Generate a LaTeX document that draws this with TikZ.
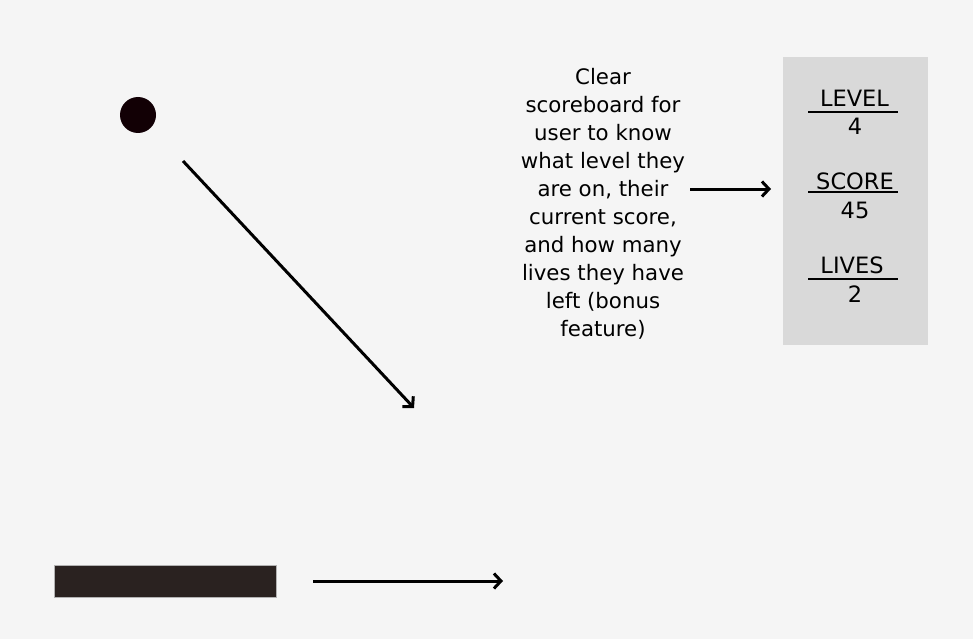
\documentclass[tikz,border=0pt]{standalone}
\usepackage{fontspec}
\setmainfont{DejaVu Sans}
\usetikzlibrary{arrows.meta}
\definecolor{bgcol}{HTML}{F5F5F5}
\definecolor{boardcol}{HTML}{D9D9D9}
\definecolor{ballcol}{HTML}{120005}
\definecolor{paddlecol}{HTML}{2A2220}
\begin{document}
\begin{tikzpicture}[
    x=1pt, y=-1pt,
    arrow/.style={-{Straight Barb[length=7pt,width=15pt]}, line width=3pt},
    notetext/.style={
        align=center,
        font=\fontsize{21.3}{28}\selectfont,
        inner sep=0pt
    },
    boardtext/.style={
        font=\fontsize{22.5}{24}\selectfont,
        inner sep=0pt
    }
]

\fill[bgcol] (0,0) rectangle (973,639);
\useasboundingbox (0,0) rectangle (973,639);

\node[circle, fill=ballcol, minimum size=36pt, inner sep=0pt] (ball) at (138,115) {};
\node[rectangle, fill=paddlecol, draw=gray!60, line width=0.5pt,
      minimum width=222pt, minimum height=32pt, inner sep=0pt] (paddle) at (165,581) {};
\node[rectangle, fill=boardcol, minimum width=145pt, minimum height=288pt,
      inner sep=0pt] (board) at (855.5,201) {};

\node[notetext] (note) at (603,204) {Clear\\
scoreboard for\\
user to know\\
what level they\\
are on, their\\
current score,\\
and how many\\
lives they have\\
left (bonus\\
feature)};

\foreach \lbl/\val/\x/\y/\ly/\vy in {LEVEL/4/854.5/98.5/112/126.5,
                                    SCORE/45/855/181.5/192/210,
                                    LIVES/2/852/265/279/294}{
    \node[boardtext] (\lbl) at (\x,\y) {\lbl};
    \node[boardtext] (\lbl-val) at (855,\vy) {\val};
    \draw[line width=1.6pt] (808,\ly) -- (898,\ly);
}

\coordinate (ballgo) at (183,161);
\coordinate (ballend) at (414,408);
\coordinate (padgo) at (313,581);
\coordinate (padend) at (503,581);
\coordinate (notego) at (690,189);
\coordinate (noteend) at (771,189);

\draw[arrow] (ballgo) -- (ballend);
\draw[arrow] (padgo) -- (padend);
\draw[arrow] (notego) -- (noteend);

\end{tikzpicture}
\end{document}
